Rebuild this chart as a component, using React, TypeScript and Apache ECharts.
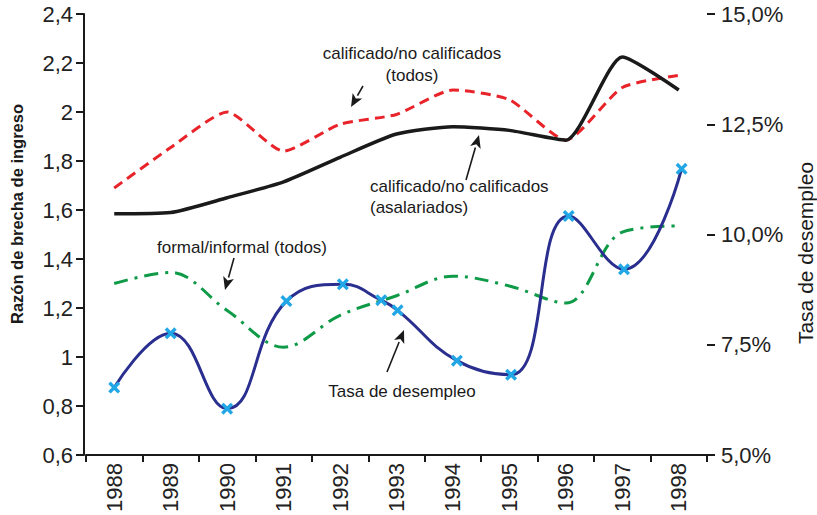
import React, { useEffect, useRef } from "react";
import * as echarts from "echarts";

const years = [1988, 1989, 1990, 1991, 1992, 1993, 1994, 1995, 1996, 1997, 1998];
const yearLabels = years.map(String);
const calificadosTodos = [1.69, 1.855, 2.0, 1.84, 1.95, 1.99, 2.09, 2.05, 1.885, 2.1, 2.15];
const calificadosAsalariados = [1.585, 1.59, 1.65, 1.715, 1.815, 1.91, 1.94, 1.925, 1.885, 2.225, 2.09];
const formalInformal = [1.3, 1.345, 1.19, 1.04, 1.17, 1.25, 1.33, 1.29, 1.22, 1.51, 1.535];
const desempleoX = [1988, 1989, 1990, 1991.05, 1992.05, 1992.73, 1993.02, 1994.07, 1995.03, 1996.05, 1997.03, 1998.05];
const desempleo = [6.53, 7.76, 6.05, 8.49, 8.87, 8.51, 8.28, 7.14, 6.82, 10.42, 9.21, 11.49];

const FONT = "'Liberation Sans', Arial, Helvetica, sans-serif";
const INK = "#1a1a1a";

function arrow(x1: number, y1: number, x2: number, y2: number) {
  const ang = Math.atan2(y2 - y1, x2 - x1);
  const L = 13, W = 5.5;
  const bx = x2 - L * Math.cos(ang), by = y2 - L * Math.sin(ang);
  const px = -Math.sin(ang) * W, py = Math.cos(ang) * W;
  return [
    { type: "line", shape: { x1, y1, x2: bx, y2: by }, style: { stroke: INK, lineWidth: 1.6 }, z: 100 },
    {
      type: "polygon",
      shape: { points: [[x2, y2], [bx + px, by + py], [bx + L * 0.25 * Math.cos(ang), by + L * 0.25 * Math.sin(ang)], [bx - px, by - py]] },
      style: { fill: INK },
      z: 100,
    },
  ];
}

function label(text: string, x: number, y: number, align: string = "center") {
  return {
    type: "text",
    x,
    y,
    z: 100,
    style: { text, fill: INK, font: `17px ${FONT}`, align, verticalAlign: "middle" },
  };
}

export default function App() {
  const ref = useRef<HTMLDivElement>(null);
  useEffect(() => {
    document.body.style.margin = "0";
    if (!ref.current) return;
    const chart = echarts.init(ref.current, null, { renderer: "svg" });
    const crossSymbol = "path://M0,2L2,0L5,3L8,0L10,2L7,5L10,8L8,10L5,7L2,10L0,8L3,5Z";
    chart.setOption({
      animation: false,
      backgroundColor: "#ffffff",
      textStyle: { fontFamily: FONT },
      grid: { left: 86, right: 110, top: 14, bottom: 60 },
      xAxis: [
        {
          type: "category",
          data: yearLabels,
          boundaryGap: true,
          position: "bottom",
          axisLine: { lineStyle: { color: INK, width: 2 } },
          axisTick: { show: true, length: 7, lineStyle: { color: INK, width: 2 } },
          axisLabel: { rotate: 90, color: "#222", fontSize: 22, fontFamily: FONT, margin: 8 },
          splitLine: { show: false },
        },
        {
          type: "value",
          min: 1987.5,
          max: 1998.5,
          show: false,
        },
      ],
      yAxis: [
        {
          type: "value",
          min: 0.6,
          max: 2.4,
          interval: 0.2,
          position: "left",
          offset: 2,
          axisLine: { show: true, lineStyle: { color: INK, width: 2 } },
          axisTick: { show: true, length: 8, lineStyle: { color: INK, width: 2 } },
          axisLabel: {
            color: "#222",
            fontSize: 22,
            fontFamily: FONT,
            margin: 11,
            formatter: (v: number) => String(Math.round(v * 10) / 10).replace(".", ","),
          },
          splitLine: { show: false },
        },
        {
          type: "value",
          min: 5,
          max: 15,
          interval: 2.5,
          position: "right",
          axisLine: { show: false },
          axisTick: { show: true, length: 8, lineStyle: { color: INK, width: 2 } },
          axisLabel: {
            color: "#222",
            fontSize: 22,
            fontFamily: FONT,
            margin: 14,
            formatter: (v: number) => v.toFixed(1).replace(".", ",") + "%",
          },
          splitLine: { show: false },
        },
      ],
      series: [
        {
          name: "formal/informal (todos)",
          type: "line",
          xAxisIndex: 1,
          yAxisIndex: 0,
          data: years.map((y, i) => [y, formalInformal[i]]),
          smooth: 0.35,
          showSymbol: false,
          lineStyle: { color: "#0f9a48", width: 3, type: [14, 7, 3, 7] },
        },
        {
          name: "calificado/no calificados (todos)",
          type: "line",
          xAxisIndex: 1,
          yAxisIndex: 0,
          data: years.map((y, i) => [y, calificadosTodos[i]]),
          smooth: 0.2,
          showSymbol: false,
          lineStyle: { color: "#e8242a", width: 3, type: [10, 6] },
        },
        {
          name: "calificado/no calificados (asalariados)",
          type: "line",
          xAxisIndex: 1,
          yAxisIndex: 0,
          data: years.map((y, i) => [y, calificadosAsalariados[i]]),
          smooth: 0.2,
          showSymbol: false,
          lineStyle: { color: INK, width: 3.5 },
        },
        {
          name: "Tasa de desempleo",
          type: "line",
          xAxisIndex: 1,
          yAxisIndex: 1,
          data: desempleoX.map((x, i) => [x, desempleo[i]]),
          smooth: 0.45,
          symbol: crossSymbol,
          symbolSize: 12,
          showSymbol: true,
          itemStyle: { color: "#22a7e6" },
          lineStyle: { color: "#2a2f8f", width: 3 },
          z: 5,
        },
      ],
      graphic: [
        {
          type: "text",
          x: 17,
          y: 214,
          rotation: Math.PI / 2,
          style: {
            text: "Razón de brecha de ingreso",
            fill: INK,
            font: `bold 16.5px ${FONT}`,
            align: "center",
            verticalAlign: "middle",
          },
        },
        {
          type: "text",
          x: 805,
          y: 253,
          rotation: Math.PI / 2,
          style: {
            text: "Tasa de desempleo",
            fill: INK,
            font: `21px ${FONT}`,
            align: "center",
            verticalAlign: "middle",
          },
        },
        label("calificado/no calificados", 412, 53),
        label("(todos)", 412, 75),
        ...arrow(363, 86, 351, 107),
        label("calificado/no calificados", 370, 186, "left"),
        label("(asalariados)", 370, 207, "left"),
        ...arrow(466, 180, 479, 135),
        label("formal/informal (todos)", 242, 247),
        ...arrow(234, 258, 225, 290),
        label("Tasa de desempleo", 402, 391),
        ...arrow(387, 372, 404, 330),
      ],
    });
    return () => chart.dispose();
  }, []);
  return <div ref={ref} style={{ width: 817, height: 515 }} />;
}
